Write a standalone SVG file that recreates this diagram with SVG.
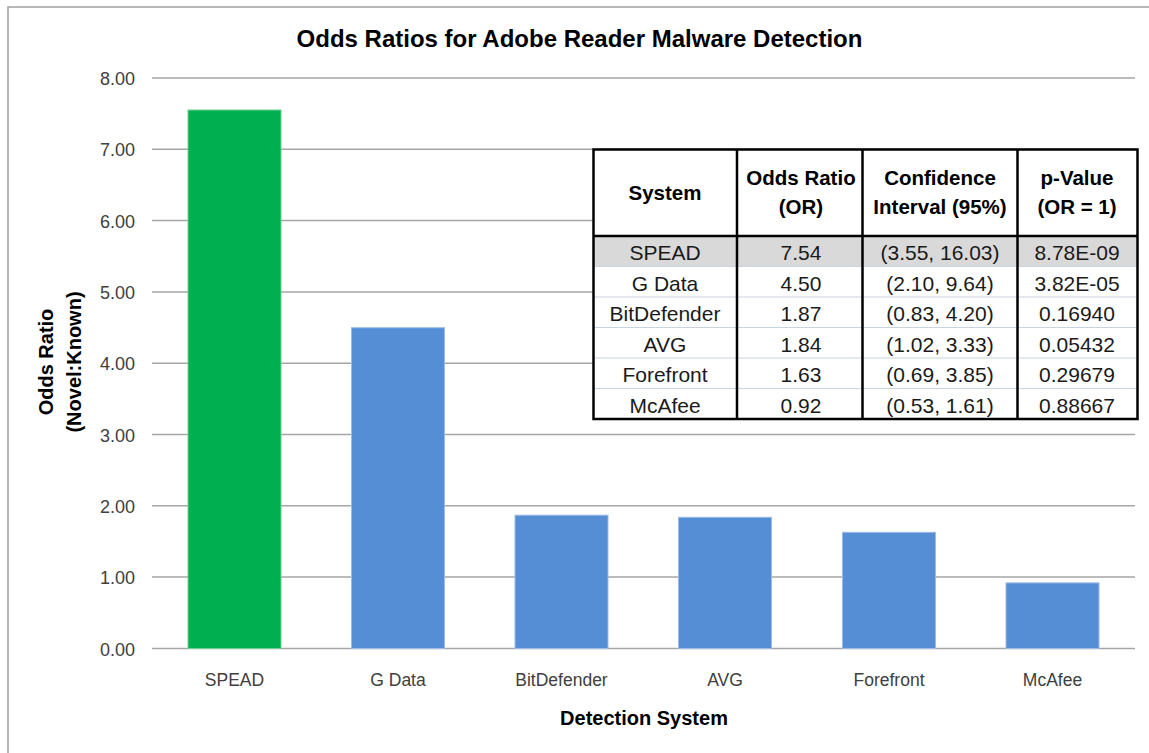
<svg xmlns="http://www.w3.org/2000/svg" width="1149" height="753" viewBox="0 0 1149 753">
<style>
  text { font-family: "Liberation Sans", Arial, sans-serif; fill: #000; }
  .tick { font-size: 18px; fill: #404040; text-anchor: end; }
  .cat { font-size: 17.5px; fill: #404040; text-anchor: middle; }
  .title { font-size: 24px; font-weight: bold; text-anchor: middle; }
  .axt { font-size: 20px; font-weight: bold; text-anchor: middle; }
  .grid { stroke: #a6a6a6; stroke-width: 1.5; }
  .green { fill: #00b050; stroke: #6fd08f; stroke-width: 1; }
  .blue { fill: #558ed5; stroke: #9dbbe6; stroke-width: 1; }
  .th { font-size: 20.5px; font-weight: bold; text-anchor: middle; }
  .td { font-size: 21px; text-anchor: middle; fill: #1a1a1a; }
  .thick { stroke: #000; stroke-width: 2.5; fill: none; }
  .thin { stroke: #c8d4e0; stroke-width: 1.2; }
</style>
<rect width="1149" height="753" fill="#fff"/>
<rect x="8" y="7" width="1160" height="770" fill="none" stroke="#a0a0a0" stroke-width="1.5"/>
<g id="title"><text class="title" x="579.5" y="47">Odds Ratios for Adobe Reader Malware Detection</text></g>
<g id="gridlines">
  <line class="grid" x1="152" y1="78" x2="1135" y2="78"/>
  <line class="grid" x1="152" y1="149.3" x2="1135" y2="149.3"/>
  <line class="grid" x1="152" y1="220.6" x2="1135" y2="220.6"/>
  <line class="grid" x1="152" y1="291.9" x2="1135" y2="291.9"/>
  <line class="grid" x1="152" y1="363.2" x2="1135" y2="363.2"/>
  <line class="grid" x1="152" y1="434.5" x2="1135" y2="434.5"/>
  <line class="grid" x1="152" y1="505.8" x2="1135" y2="505.8"/>
  <line class="grid" x1="152" y1="577.1" x2="1135" y2="577.1"/>
  <line class="grid" x1="152" y1="648.5" x2="1135" y2="648.5"/>
</g>
<g id="yticks">
  <text class="tick" x="135" y="85">8.00</text>
  <text class="tick" x="135" y="156.3">7.00</text>
  <text class="tick" x="135" y="227.6">6.00</text>
  <text class="tick" x="135" y="298.9">5.00</text>
  <text class="tick" x="135" y="370.2">4.00</text>
  <text class="tick" x="135" y="441.5">3.00</text>
  <text class="tick" x="135" y="512.8">2.00</text>
  <text class="tick" x="135" y="584.1">1.00</text>
  <text class="tick" x="135" y="655.5">0.00</text>
</g>
<g id="bars">
  <rect id="bar-spead" class="green" x="188" y="110" width="93" height="538.5"/>
  <rect id="bar-gdata" class="blue" x="351.5" y="327.7" width="93" height="320.8"/>
  <rect id="bar-bitdefender" class="blue" x="515" y="515.2" width="93" height="133.3"/>
  <rect id="bar-avg" class="blue" x="678.5" y="517.3" width="93" height="131.2"/>
  <rect id="bar-forefront" class="blue" x="842.5" y="532.3" width="93" height="116.2"/>
  <rect id="bar-mcafee" class="blue" x="1006" y="582.9" width="93" height="65.6"/>
</g>
<g id="xlabels">
  <text class="cat" x="234.5" y="686">SPEAD</text>
  <text class="cat" x="398" y="686">G Data</text>
  <text class="cat" x="561.5" y="686">BitDefender</text>
  <text class="cat" x="725" y="686">AVG</text>
  <text class="cat" x="889" y="686">Forefront</text>
  <text class="cat" x="1052.5" y="686">McAfee</text>
</g>
<g id="xaxis-title"><text class="axt" x="644" y="725">Detection System</text></g>
<g id="yaxis-title" transform="translate(60,362) rotate(-90)">
  <text class="axt" x="0" y="-7">Odds Ratio</text>
  <text class="axt" x="0" y="21">(Novel:Known)</text>
</g>
<g id="table">
  <rect x="593.5" y="149.5" width="544" height="269.5" fill="#fff"/>
  <rect x="593.5" y="236" width="544" height="30.5" fill="#d9d9d9"/>
  <g id="table-rowlines">
    <line class="thin" x1="593.5" y1="266.5" x2="1137.5" y2="266.5"/>
    <line class="thin" x1="593.5" y1="297" x2="1137.5" y2="297"/>
    <line class="thin" x1="593.5" y1="327.5" x2="1137.5" y2="327.5"/>
    <line class="thin" x1="593.5" y1="358" x2="1137.5" y2="358"/>
    <line class="thin" x1="593.5" y1="388.5" x2="1137.5" y2="388.5"/>
  </g>
  <g id="table-borders">
    <rect class="thick" x="593.5" y="149.5" width="544" height="269.5"/>
    <line class="thick" x1="593.5" y1="236" x2="1137.5" y2="236"/>
    <line class="thick" x1="737" y1="149.5" x2="737" y2="419"/>
    <line class="thick" x1="862.5" y1="149.5" x2="862.5" y2="419"/>
    <line class="thick" x1="1017.5" y1="149.5" x2="1017.5" y2="419"/>
  </g>
  <g id="table-header">
    <text class="th" x="665" y="200">System</text>
    <text class="th" x="801" y="185">Odds Ratio</text>
    <text class="th" x="801" y="214">(OR)</text>
    <text class="th" x="940" y="185">Confidence</text>
    <text class="th" x="940" y="214">Interval (95%)</text>
    <text class="th" x="1077" y="185">p-Value</text>
    <text class="th" x="1077" y="214">(OR = 1)</text>
  </g>
  <g id="table-body">
    <text class="td" x="665" y="260">SPEAD</text>
    <text class="td" x="801" y="260">7.54</text>
    <text class="td" x="940" y="260">(3.55, 16.03)</text>
    <text class="td" x="1077" y="260">8.78E-09</text>
    <text class="td" x="665" y="290.5">G Data</text>
    <text class="td" x="801" y="290.5">4.50</text>
    <text class="td" x="940" y="290.5">(2.10, 9.64)</text>
    <text class="td" x="1077" y="290.5">3.82E-05</text>
    <text class="td" x="665" y="321">BitDefender</text>
    <text class="td" x="801" y="321">1.87</text>
    <text class="td" x="940" y="321">(0.83, 4.20)</text>
    <text class="td" x="1077" y="321">0.16940</text>
    <text class="td" x="665" y="351.5">AVG</text>
    <text class="td" x="801" y="351.5">1.84</text>
    <text class="td" x="940" y="351.5">(1.02, 3.33)</text>
    <text class="td" x="1077" y="351.5">0.05432</text>
    <text class="td" x="665" y="382">Forefront</text>
    <text class="td" x="801" y="382">1.63</text>
    <text class="td" x="940" y="382">(0.69, 3.85)</text>
    <text class="td" x="1077" y="382">0.29679</text>
    <text class="td" x="665" y="412.5">McAfee</text>
    <text class="td" x="801" y="412.5">0.92</text>
    <text class="td" x="940" y="412.5">(0.53, 1.61)</text>
    <text class="td" x="1077" y="412.5">0.88667</text>
  </g>
</g>
</svg>
